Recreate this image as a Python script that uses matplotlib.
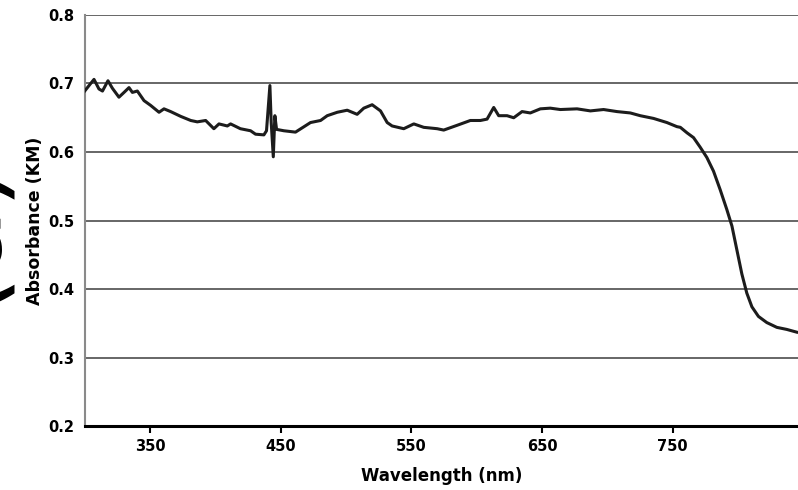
import numpy as np
import matplotlib
matplotlib.use("Agg")
import matplotlib.pyplot as plt

# spectrum (nm, absorbance KM)
wavelength = [
    299.8, 303.1, 306.9, 310.7, 313.4, 317.6, 321.0, 326.0, 329.9, 333.7,
    336.3, 340.1, 345.2, 350.3, 356.7, 360.5, 365.6, 373.3, 381.0, 386.0,
    392.4, 398.7, 402.6, 409.0, 411.5, 419.0, 426.8, 430.6, 437.0, 439.0,
    441.6, 442.6, 444.2, 445.4, 446.7, 452.3, 461.2, 472.7, 480.4, 485.5,
    493.2, 500.8, 508.4, 513.5, 519.9, 526.3, 531.4, 535.2, 544.1, 551.8,
    559.4, 569.7, 574.7, 585.0, 595.1, 602.8, 607.9, 613.0, 616.8, 623.2,
    628.3, 634.7, 641.0, 648.7, 656.3, 664.0, 676.8, 687.0, 697.1, 707.4,
    717.6, 725.2, 735.4, 745.6, 753.3, 755.9, 761.0, 766.0, 771.1, 776.2,
    781.3, 786.4, 791.5, 795.4, 799.2, 803.0, 806.8, 810.7, 815.7, 822.1,
    829.8, 837.4, 845.0,
]
absorbance = [
    0.689, 0.697, 0.706, 0.692, 0.689, 0.704, 0.693, 0.680, 0.687, 0.694,
    0.687, 0.689, 0.675, 0.668, 0.658, 0.663, 0.659, 0.652, 0.646, 0.644,
    0.646, 0.634, 0.641, 0.638, 0.641, 0.634, 0.631, 0.626, 0.625, 0.631,
    0.697, 0.643, 0.593, 0.653, 0.633, 0.631, 0.629, 0.643, 0.646, 0.653,
    0.658, 0.661, 0.655, 0.664, 0.669, 0.660, 0.643, 0.638, 0.634, 0.641,
    0.636, 0.634, 0.632, 0.639, 0.646, 0.646, 0.648, 0.665, 0.653, 0.653,
    0.650, 0.659, 0.657, 0.663, 0.664, 0.662, 0.663, 0.660, 0.662, 0.659,
    0.657, 0.653, 0.649, 0.643, 0.637, 0.636, 0.628, 0.621, 0.607, 0.592,
    0.572, 0.545, 0.516, 0.492, 0.457, 0.422, 0.394, 0.374, 0.360, 0.351,
    0.344, 0.341, 0.337,
]

x_ticks = [350, 450, 550, 650, 750]
y_ticks = [0.2, 0.3, 0.4, 0.5, 0.6, 0.7, 0.8]

fig = plt.figure(figsize=(7.98, 4.90), dpi=100)
ax = fig.add_axes([0.1065, 0.1306, 0.8935, 0.8388])

# horizontal grid lines
for y in y_ticks[1:]:
    ax.axhline(y, color="#5a5a5a", lw=1.3, zorder=1)

ax.plot(wavelength, absorbance, color="#1c1c1c", lw=2.2, zorder=3)

ax.set_xlim(300, 846)
ax.set_ylim(0.2, 0.8)
ax.set_xticks(x_ticks)
ax.set_yticks(y_ticks)
ax.set_xticklabels([str(v) for v in x_ticks], fontweight="bold", fontsize=10.5)
ax.set_yticklabels([f"{v:.1f}" for v in y_ticks], fontweight="bold", fontsize=10.5)
ax.tick_params(axis="x", length=5, width=1.5, color="black", pad=4)
ax.tick_params(axis="y", length=0, pad=8)

for s in ["top", "right"]:
    ax.spines[s].set_visible(False)
ax.spines["left"].set_color("#8a8a8a")
ax.spines["left"].set_linewidth(1.5)
ax.spines["bottom"].set_color("black")
ax.spines["bottom"].set_linewidth(2.2)

ax.set_xlabel("Wavelength (nm)", fontweight="bold", fontsize=12, labelpad=10)
ax.set_ylabel("Absorbance (KM)", fontweight="bold", fontsize=12.5, labelpad=3)

# clipped panel letter from a neighbouring figure, only its edge shows
fig.text(0.017, 0.527, "(a)", rotation=90, fontsize=80, ha="right", va="center",
         color="black")

fig.savefig("out.png", dpi=100)
